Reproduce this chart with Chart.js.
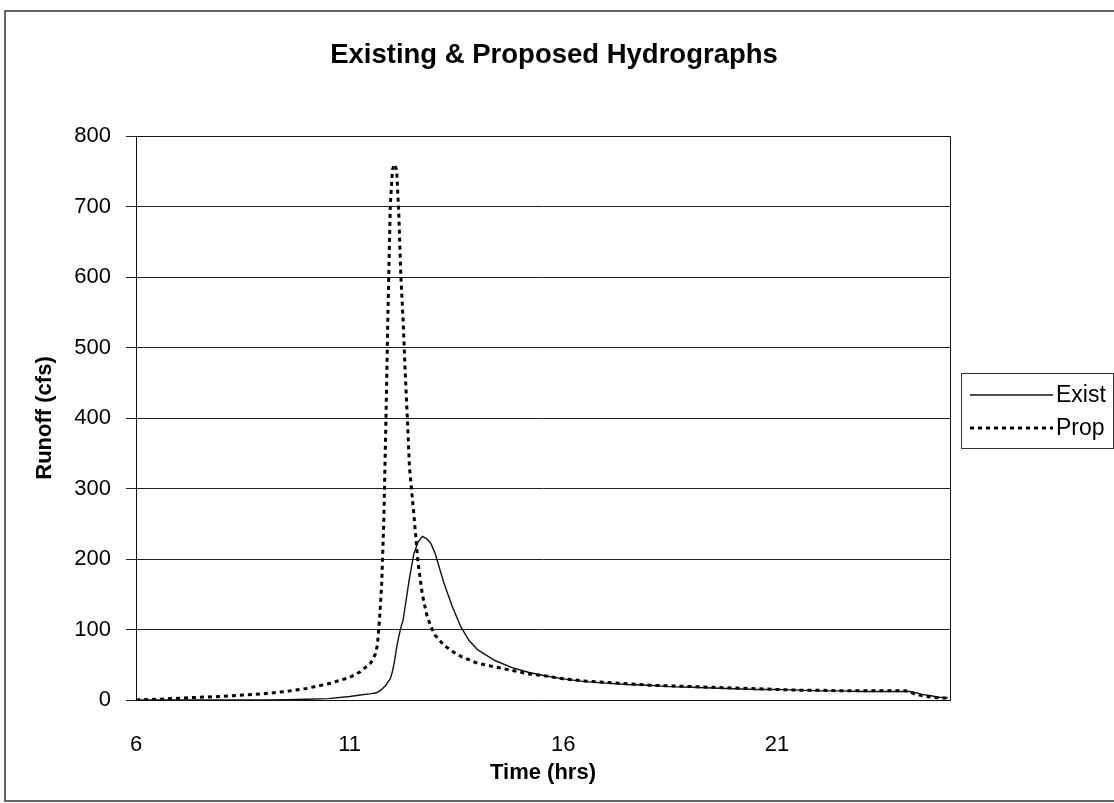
<!DOCTYPE html>
<html>
<head>
<meta charset="utf-8">
<script src="https://cdn.jsdelivr.net/npm/chart.js@4"></script>
<style>
  html, body { margin: 0; padding: 0; background: #fff; }
  #wrap { width: 1114px; height: 803px; position: relative; }
</style>
</head>
<body>
<div id="wrap"><canvas id="hydroChart" width="1114" height="803"></canvas></div>
<script>
// time axis (hrs), shared by both hydrographs
const hours = [
  6.0, 6.5, 7.0, 7.5, 8.0, 8.5, 9.0, 9.5, 10.0, 10.5, 11.0, 11.25, 11.5, 11.6,
  11.65, 11.7, 11.75, 11.8, 11.85, 11.9, 11.95, 12.0, 12.05, 12.1, 12.15, 12.2,
  12.25, 12.3, 12.35, 12.4, 12.5, 12.6, 12.7, 12.8, 12.9, 13.0, 13.2, 13.4, 13.6,
  13.8, 14.0, 14.4, 14.8, 15.2, 15.6, 16.0, 16.5, 17.0, 17.5, 18.0, 18.5, 19.0,
  19.5, 20.0, 20.5, 21.0, 21.5, 22.0, 22.5, 23.0, 23.5, 24.0, 24.1, 24.2, 24.4,
  24.6, 24.8, 25.0
];

// runoff (cfs)
const existCfs = [
  0, 0, 0, 0, 0, 0, 0, 0.5, 1, 2, 5, 7, 9, 10,
  11, 13, 15, 18, 21, 26, 30, 40, 55, 75, 90, 103,
  113, 133, 153, 173, 207, 224, 232, 229, 222, 208, 167, 133, 104,
  84, 71, 56, 46, 39, 34, 30, 26, 24, 22, 21, 19, 18,
  17, 16, 15, 15, 14, 13, 13, 12, 12, 12, 12, 11, 8,
  6, 4, 3
];

const propCfs = [
  0, 1, 2.5, 4, 5, 7, 9, 12, 16.5, 23, 32, 40, 53, 65,
  78, 115, 165, 255, 400, 560, 700, 752, 760, 752, 690, 600,
  540, 465, 400, 330, 265, 195, 150, 122, 104, 92, 78, 69, 62,
  57, 52, 47, 42, 37, 34, 30, 27, 25, 23, 21, 20, 19,
  18, 17, 16, 15, 14, 14, 13, 13, 13, 13, 12, 9, 6,
  4, 3, 3
];

const xTickValues = [6, 11, 16, 21];
const seriesNames = ["Exist", "Prop"];

const FONT = "'Liberation Sans', Arial, sans-serif";

const toPoints = (vals) => hours.map((h, i) => ({ x: h, y: vals[i] }));

// frame, title and boxed legend like the Excel original
const decorations = {
  id: "decorations",
  beforeDraw(chart) {
    const ctx = chart.ctx;
    ctx.save();
    ctx.fillStyle = "#fff";
    ctx.fillRect(0, 0, chart.width, chart.height);
    ctx.strokeStyle = "#333";
    ctx.lineWidth = 1.5;
    ctx.strokeRect(5, 11, 1125, 790);
    ctx.restore();
  },
  afterDraw(chart) {
    const ctx = chart.ctx;
    const area = chart.chartArea;
    ctx.save();

    // plot area frame (right side + top)
    ctx.strokeStyle = "#111";
    ctx.lineWidth = 1;
    ctx.beginPath();
    ctx.moveTo(area.left, area.top + 0.5);
    ctx.lineTo(area.right + 0.5, area.top + 0.5);
    ctx.lineTo(area.right + 0.5, area.bottom);
    ctx.stroke();

    // title
    ctx.fillStyle = "#000";
    ctx.font = "bold 27.5px " + FONT;
    ctx.textAlign = "center";
    ctx.textBaseline = "middle";
    ctx.fillText("Existing & Proposed Hydrographs", 554, 55);

    // legend
    ctx.strokeStyle = "#333";
    ctx.lineWidth = 1;
    ctx.strokeRect(961.5, 373.5, 152, 75);
    const rows = [395, 428];
    chart.data.datasets.forEach((ds, i) => {
      const y = rows[i];
      ctx.strokeStyle = ds.borderColor;
      ctx.lineWidth = ds.borderWidth;
      ctx.setLineDash(ds.borderDash || []);
      ctx.beginPath();
      ctx.moveTo(970, y);
      ctx.lineTo(1053, y);
      ctx.stroke();
      ctx.setLineDash([]);
      ctx.fillStyle = "#000";
      ctx.font = "23px " + FONT;
      ctx.textAlign = "left";
      ctx.textBaseline = "middle";
      ctx.fillText(ds.label, 1056, y + 1);
    });
    ctx.restore();
  },
};

const ctx = document.getElementById("hydroChart").getContext("2d");
new Chart(ctx, {
  type: "line",
  data: {
    datasets: [
      {
        label: seriesNames[0],
        data: toPoints(existCfs),
        borderColor: "#111",
        borderWidth: 1.4,
        pointRadius: 0,
        tension: 0,
        fill: false,
      },
      {
        label: seriesNames[1],
        data: toPoints(propCfs),
        borderColor: "#000",
        borderWidth: 3,
        borderDash: [4, 4],
        pointRadius: 0,
        tension: 0,
        fill: false,
      },
    ],
  },
  options: {
    responsive: false,
    animation: false,
    layout: {
      padding: { top: 136, right: 164, bottom: 0, left: 0 },
    },
    plugins: {
      legend: { display: false },
      title: { display: false },
      tooltip: { enabled: false },
    },
    scales: {
      x: {
        type: "linear",
        min: 6,
        max: 25.05,
        afterBuildTicks: (scale) => {
          scale.ticks = xTickValues.map((v) => ({ value: v }));
        },
        afterFit: (scale) => {
          scale.height = 103;
        },
        grid: { display: false },
        border: { display: true, color: "#111", width: 1 },
        ticks: {
          color: "#000",
          padding: 24,
          maxRotation: 0,
          font: { family: FONT, size: 22 },
        },
        title: {
          display: true,
          text: "Time (hrs)",
          color: "#000",
          font: { family: FONT, size: 22, weight: "bold" },
          padding: { top: 0, bottom: 17 },
        },
      },
      y: {
        min: 0,
        max: 800,
        afterFit: (scale) => {
          scale.width = 136;
        },
        grid: {
          color: "#222",
          lineWidth: 1,
          drawTicks: true,
          tickLength: 10,
        },
        border: { display: true, color: "#111", width: 1 },
        ticks: {
          stepSize: 100,
          color: "#000",
          padding: 15,
          font: { family: FONT, size: 22 },
        },
        title: {
          display: true,
          text: "Runoff (cfs)",
          color: "#000",
          font: { family: FONT, size: 22, weight: "bold" },
          padding: { top: 32, bottom: 0 },
        },
      },
    },
  },
  plugins: [decorations],
});
</script>
</body>
</html>
